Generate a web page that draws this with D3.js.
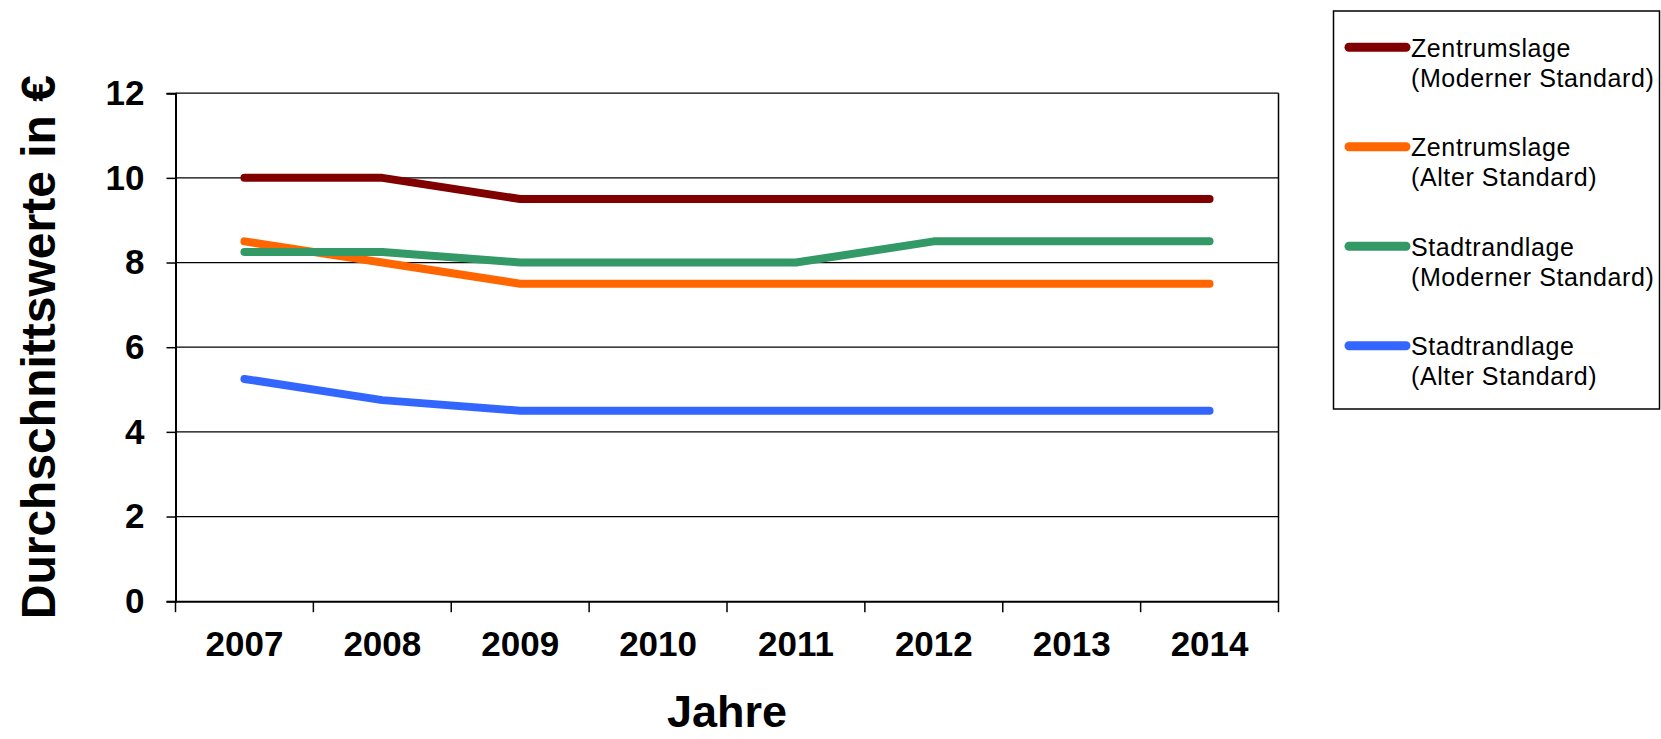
<!DOCTYPE html>
<html>
<head>
<meta charset="utf-8">
<script src="https://cdn.jsdelivr.net/npm/d3@7"></script>
<style>
	html, body { margin: 0; padding: 0; background: #fff; }
	svg { display: block; font-family: "Liberation Sans", Arial, Helvetica, sans-serif; }
</style>
</head>
<body>
<svg id="chart"></svg>
<script>
const years = ['2007', '2008', '2009', '2010', '2011', '2012', '2013', '2014']
const yTicks = [0, 2, 4, 6, 8, 10, 12]

const zentrumModern = [10, 10, 9.5, 9.5, 9.5, 9.5, 9.5, 9.5]
const zentrumAlt = [8.5, 8, 7.5, 7.5, 7.5, 7.5, 7.5, 7.5]
const stadtrandModern = [8.25, 8.25, 8, 8, 8, 8.5, 8.5, 8.5]
const stadtrandAlt = [5.25, 4.75, 4.5, 4.5, 4.5, 4.5, 4.5, 4.5]

const seriesNames = [
	['Zentrumslage', '(Moderner Standard)'],
	['Zentrumslage', '(Alter Standard)'],
	['Stadtrandlage', '(Moderner Standard)'],
	['Stadtrandlage', '(Alter Standard)'],
]
const seriesColors = ['#800000', '#ff6600', '#339966', '#3366ff']

const series = [zentrumModern, zentrumAlt, stadtrandModern, stadtrandAlt]
	.map((values, i) => ({ name: seriesNames[i], color: seriesColors[i], values }))

const width = 1661
const height = 739
const plot = { left: 175.5, right: 1278.5, top: 93.2, bottom: 601.2 }

const svg = d3.select('#chart')
	.attr('width', width)
	.attr('height', height)

const x = d3.scaleBand()
	.domain(years)
	.range([plot.left, plot.right])

const y = d3.scaleLinear()
	.domain([0, 12])
	.range([plot.bottom, plot.top])

// gridlines
svg.append('g')
	.selectAll('line')
	.data(yTicks.slice(1))
	.join('line')
		.attr('x1', plot.left)
		.attr('x2', plot.right)
		.attr('y1', d => y(d))
		.attr('y2', d => y(d))
		.attr('stroke', '#000')
		.attr('stroke-width', 1.2)

// right border
svg.append('line')
	.attr('x1', plot.right).attr('x2', plot.right)
	.attr('y1', plot.top).attr('y2', plot.bottom)
	.attr('stroke', '#000')
	.attr('stroke-width', 1.5)

// y axis
const yAxis = svg.append('g')
	.attr('transform', `translate(${plot.left},0)`)
	.call(d3.axisLeft(y).tickValues(yTicks).tickSize(9).tickPadding(22))
yAxis.select('.domain').attr('stroke-width', 2)
yAxis.selectAll('.tick line').attr('stroke-width', 1.5)
yAxis.selectAll('text')
	.attr('font-size', 35)
	.attr('font-weight', 'bold')
	.attr('fill', '#000')
	.attr('font-family', '"Liberation Sans", Arial, sans-serif')

// x axis with ticks on band boundaries
const xAxis = svg.append('g')
	.attr('transform', `translate(0,${plot.bottom})`)
	.call(d3.axisBottom(x).tickSize(0).tickPadding(30))
xAxis.select('.domain').attr('stroke-width', 2)
xAxis.selectAll('text')
	.attr('font-size', 35)
	.attr('font-weight', 'bold')
	.attr('fill', '#000')
	.attr('font-family', '"Liberation Sans", Arial, sans-serif')

const bounds = years.map(d => x(d)).concat([x(years[years.length - 1]) + x.bandwidth()])
xAxis.selectAll('.bound')
	.data(bounds)
	.join('line')
		.attr('class', 'bound')
		.attr('x1', d => d)
		.attr('x2', d => d)
		.attr('y1', 0)
		.attr('y2', 11)
		.attr('stroke', '#000')
		.attr('stroke-width', 1.5)

// lines
const line = d3.line()
	.x((d, i) => x(years[i]) + x.bandwidth() / 2)
	.y(d => y(d))

svg.append('g')
	.selectAll('path')
	.data(series)
	.join('path')
		.attr('d', d => line(d.values))
		.attr('fill', 'none')
		.attr('stroke', d => d.color)
		.attr('stroke-width', 8)
		.attr('stroke-linecap', 'round')
		.attr('stroke-linejoin', 'round')

// axis titles
svg.append('text')
	.attr('transform', `translate(55,${(plot.top + plot.bottom) / 2}) rotate(-90)`)
	.attr('text-anchor', 'middle')
	.attr('font-size', 48)
	.attr('font-weight', 'bold')
	.text('Durchschnittswerte in €')

svg.append('text')
	.attr('x', (plot.left + plot.right) / 2)
	.attr('y', 727)
	.attr('text-anchor', 'middle')
	.attr('font-size', 45)
	.attr('font-weight', 'bold')
	.text('Jahre')

// legend
const legend = svg.append('g')
legend.append('rect')
	.attr('x', 1333.5)
	.attr('y', 11)
	.attr('width', 326)
	.attr('height', 398)
	.attr('fill', '#fff')
	.attr('stroke', '#000')
	.attr('stroke-width', 1.5)

const item = legend.selectAll('.item')
	.data(series)
	.join('g')
		.attr('class', 'item')
		.attr('transform', (d, i) => `translate(0,${47.3 + i * 99.5})`)

item.append('line')
	.attr('x1', 1349)
	.attr('x2', 1406)
	.attr('stroke', d => d.color)
	.attr('stroke-width', 9)
	.attr('stroke-linecap', 'round')

item.append('text')
	.attr('x', 1411)
	.attr('y', 9.5)
	.attr('font-size', 25)
	.attr('letter-spacing', 0.6)
	.text(d => d.name[0])

item.append('text')
	.attr('x', 1411)
	.attr('y', 39.5)
	.attr('font-size', 25)
	.attr('letter-spacing', 0.6)
	.text(d => d.name[1])
</script>
</body>
</html>
